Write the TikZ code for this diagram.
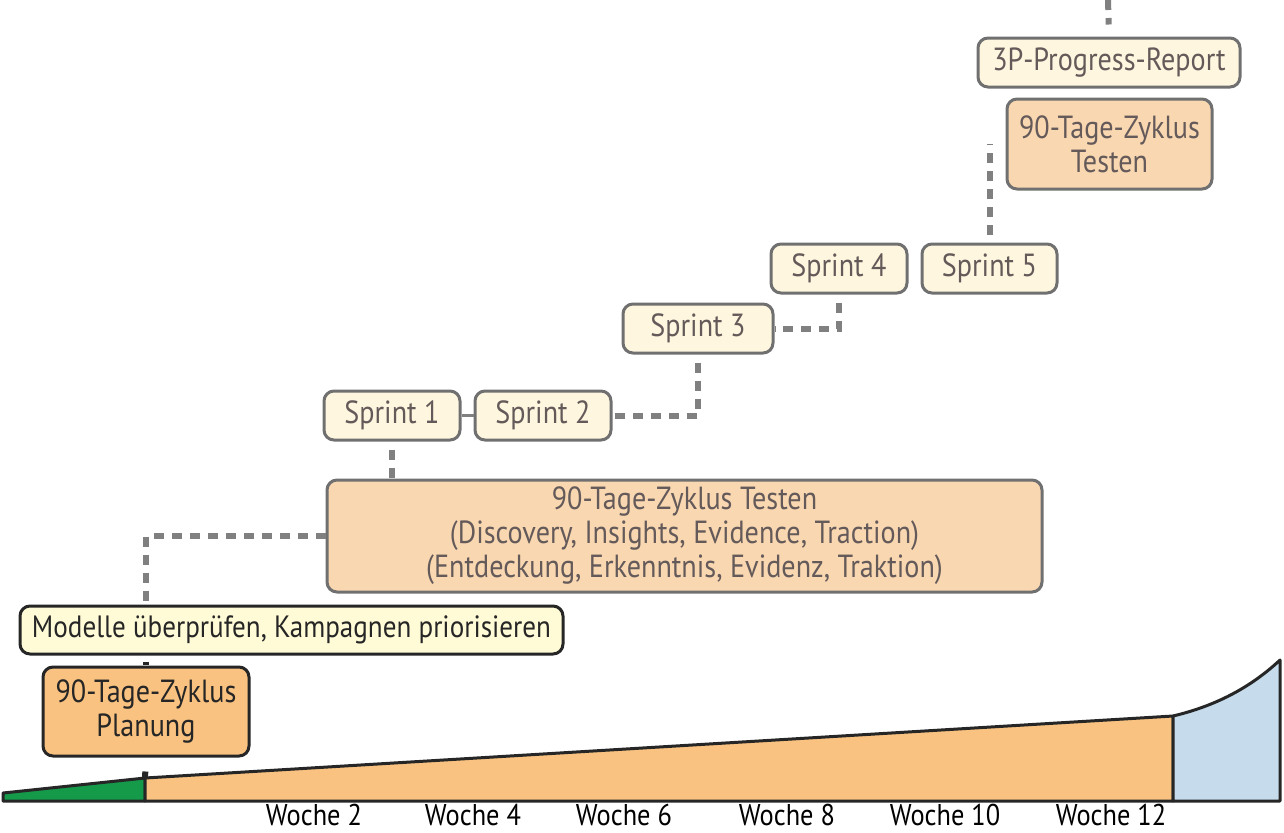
\documentclass[tikz,border=0pt]{standalone}
\usepackage{fontspec}
\setmainfont[FakeStretch=0.88]{PT Sans}
\usepackage{xcolor}
\usetikzlibrary{positioning,calc}

\definecolor{cream}{RGB}{254,246,222}
\definecolor{lemon}{RGB}{255,251,215}
\definecolor{peach}{RGB}{249,215,177}
\definecolor{apricot}{RGB}{249,194,128}
\definecolor{leaf}{RGB}{21,154,74}
\definecolor{sky}{RGB}{198,220,236}
\definecolor{frame}{RGB}{112,112,112}
\definecolor{ink}{RGB}{100,90,90}
\definecolor{dotgray}{RGB}{128,128,128}

\begin{document}
\begin{tikzpicture}[x=0.5pt,y=-0.5pt,
  box/.style={draw=frame,fill=cream,line width=1.5pt,rounded corners=5pt,inner sep=0pt,align=center,text=ink,font=\fontsize{16}{17}\selectfont,minimum height=24.5pt},
  tall/.style={fill=peach,minimum height=45pt},
  dark/.style={draw=black!85,text=black!85},
  dots/.style={dotgray,line width=3pt,dash pattern=on 5pt off 4pt},
  tick/.style={black!85,line width=3pt},
  edge/.style={draw=black!85,line width=1.5pt,line join=round}]
% background frame
\useasboundingbox (0,0) rectangle (1284,832);
% right column
\node[box,minimum width=131pt] (rep) at (1109,62.5) {3P-Progress-Report};
\node[box,tall,minimum width=102.5pt] (tst) at (1109.5,144) {90-Tage-Zyklus\\Testen};
\node[box,minimum width=67.5pt] (s5) at (989.5,268.5) {Sprint 5};
\node[box,minimum width=68pt,left=6pt of s5] (s4) {Sprint 4};
\node[box,minimum width=75pt] (s3) at (698,328.5) {Sprint 3};
\node[box,minimum width=68pt] (s2) at (543,415.5) {Sprint 2};
\node[box,minimum width=68pt,left=6pt of s2] (s1) {Sprint 1};
\node[box,tall,minimum width=357.5pt,minimum height=56pt] (big) at (684.5,536) {90-Tage-Zyklus Testen\\(Discovery, Insights, Evidence, Traction)\\(Entdeckung, Erkenntnis, Evidenz, Traktion)};
\node[box,dark,fill=lemon,minimum width=271.5pt,minimum height=24pt,font=\fontsize{15.4}{17}\selectfont] (mod) at (291.5,630) {Modelle überprüfen, Kampagnen priorisieren};
\node[box,dark,tall,fill=apricot,minimum width=103pt,minimum height=44.5pt] (plan) at (146,711.5) {90-Tage-Zyklus\\Planung};
% bottom wedge
\coordinate (l0) at (3,793);
\coordinate (g1) at (145,778);
\coordinate (o1) at (1173,716);
\coordinate (b1) at (1280,660);
\filldraw[edge,fill=leaf] (3,801) -- (l0) -- (g1) -- (145,801) -- cycle;
\filldraw[edge,fill=apricot] (145,801) -- (g1) -- (o1) -- (1173,801) -- cycle;
\filldraw[edge,fill=sky] (1173,801) -- (o1) .. controls (1215,706) and (1250,688) .. (b1) -- (1280,801) -- cycle;
% week labels
\foreach \x/\w in {314/2,473/4,624/6,787/8,945/10,1111/12}
  \node[font=\fontsize{15}{16}\selectfont,inner sep=0pt] (w\w) at (\x,815) {Woche \w};
% connectors
\coordinate (top) at (1108,0);
\draw[dots,shorten >=6pt] (top) -- (rep.north);
\draw[dots,shorten <=4pt] (s5.north) -- (s5.north |- tst.west);
\draw[dots,shorten <=4pt] (s4.south) |- (s3.east);
\draw[dots,shorten <=4pt] (s3.south) |- (s2.east);
\draw[dotgray,line width=1.5pt] (s1.east) -- (s2.west);
\draw[dots,shorten <=4pt] (s1.south) -- (s1.south |- big.north);
\draw[dots,shorten >=1pt] (big.west) -| (plan.north |- mod.north);
\draw[tick,shorten >=0.5pt,shorten <=3pt] (plan.north |- mod.south) -- (plan.north);
\draw[tick,shorten <=7pt] (plan.south) -- (g1);
\end{tikzpicture}
\end{document}
